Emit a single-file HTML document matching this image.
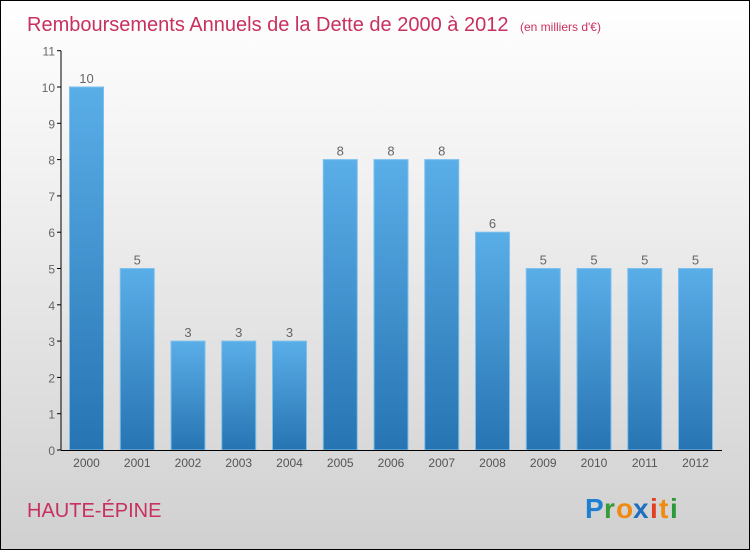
<!DOCTYPE html>
<html><head><meta charset="utf-8"><style>
body{margin:0}
#c{width:748px;height:548px;border:1px solid #000;background:linear-gradient(#ffffff,#f2f2f2 30%,#d0d0d0);position:relative;overflow:hidden;font-family:"Liberation Sans",sans-serif}
</style></head><body>
<div id="c">
<svg width="748" height="548" style="position:absolute;left:0;top:0" id="svg">
<defs><linearGradient id="g" x1="0" y1="0" x2="0" y2="1"><stop offset="0" stop-color="#5aaee8"/><stop offset="1" stop-color="#2774b2"/></linearGradient></defs>
<text x="26" y="30" font-size="20" fill="#c8305f">Remboursements Annuels de la Dette de 2000 à 2012 <tspan font-size="12" dx="6">(en milliers d'€)</tspan></text>
<text x="26" y="516" font-size="20" fill="#c8305f">HAUTE-ÉPINE</text>
<g font-size="28" font-weight="bold" font-family="'Liberation Sans',sans-serif">
<text x="584" y="517" fill="#1f7fd0">P</text><text x="603" y="517" fill="#3a9a3a">r</text><text x="615" y="517" fill="#f08a10">o</text><text x="632" y="517" fill="#1f6fc0">x</text><text x="649" y="517" fill="#e04020">i</text><text x="658" y="517" fill="#f08a10">t</text><text x="669" y="517" fill="#2a9a3a">i</text>
</g>
<g id="plot"></g>
</svg>
</div>
<script>
const categories=["2000","2001","2002","2003","2004","2005","2006","2007","2008","2009","2010","2011","2012"];
const values=[10,5,3,3,3,8,8,8,6,5,5,5,5];
const yTicks=[0,1,2,3,4,5,6,7,8,9,10,11];
const NS="http://www.w3.org/2000/svg";
const g=document.getElementById('plot');
const y0=449,yScale=36.3,x0=85.5,step=50.75,bw=34;
const Y=v=>y0-v*yScale, X=i=>x0+i*step;
function mk(t,a){const e=document.createElementNS(NS,t);for(const k in a)e.setAttribute(k,a[k]);g.appendChild(e);return e;}
yTicks.forEach(v=>{
 const t=mk('line',{x1:56,x2:60,y1:Y(v),y2:Y(v),stroke:'#000'});
 
 
 const l=mk('text',{x:54,y:Y(v)+5,'text-anchor':'end','font-size':12,fill:'#666'});
 l.textContent=v;
 
 
});
values.forEach((v,i)=>{
 const b=mk('rect',{x:X(i)-bw/2,y:Y(v),width:bw,height:y0-Y(v),fill:'url(#g)',stroke:'#7cc0ee','stroke-width':1});
 
 
 const t=mk('text',{x:X(i),y:Y(v)-4,'text-anchor':'middle','font-size':13,fill:'#666'});
 t.textContent=v;
 
 
 const c=mk('text',{x:X(i),y:466,'text-anchor':'middle','font-size':12,fill:'#555'});
 c.textContent=categories[i];
 
 
});
const ya=mk('line',{x1:60,x2:60,y1:Y(11),y2:y0,stroke:'#000'});


const xa=mk('line',{x1:60,x2:721,y1:y0+0.5,y2:y0+0.5,stroke:'#000'});


</script>
</body></html>
